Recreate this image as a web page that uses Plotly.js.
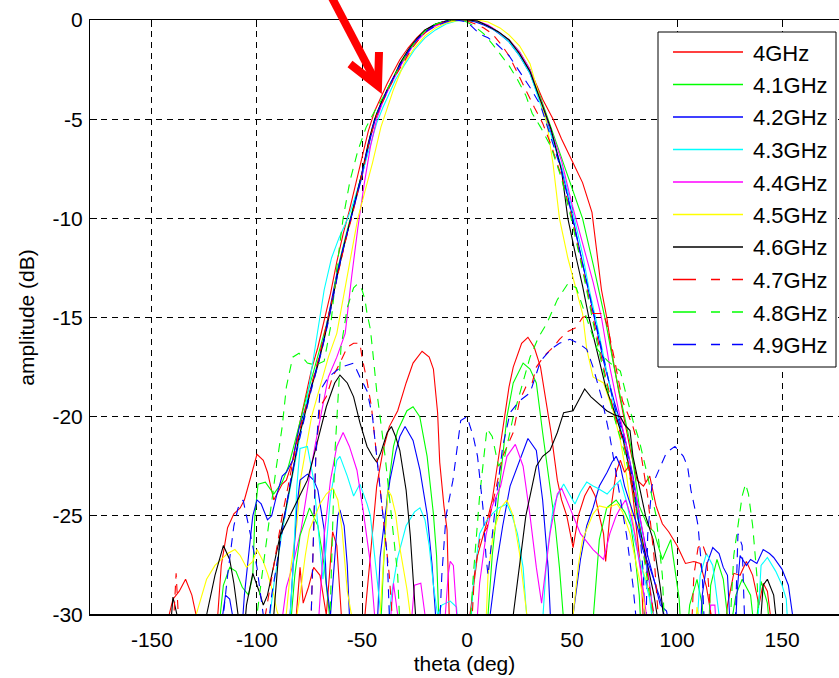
<!DOCTYPE html>
<html>
<head>
<meta charset="utf-8">
<script src="https://cdn.plot.ly/plotly-3.0.1.min.js"></script>
<style>
html,body{margin:0;padding:0;background:#fff;overflow:hidden;}
#chart{width:839px;height:678px;}
</style>
</head>
<body>
<div id="chart"></div>
<script>
// ---------------- DATA ----------------
const frequencyLabels = ['4GHz','4.1GHz','4.2GHz','4.3GHz','4.4GHz','4.5GHz','4.6GHz','4.7GHz','4.8GHz','4.9GHz'];
const xTickValues = [-150,-100,-50,0,50,100,150];
const xTickLabels = ['-150','-100','-50','0','50','100','150'];
const yTickValues = [0,-5,-10,-15,-20,-25,-30];
const yTickLabels = ['0','-5','-10','-15','-20','-25','-30'];

// co-polar patterns: [theta (deg), amplitude (dB)]
const co_4_0 = [[-146,-33],[-143,-30.5],[-140,-29.2],[-137,-28.8],[-134,-28.2],[-131,-29],[-128,-30.5],[-125,-33],[-121,-33],[-119,-30.5],[-117,-27.5],[-114,-25.6],[-111,-24.9],[-108,-24.6],[-106,-24.2],[-103,-23],[-100,-21.9],[-97,-22.2],[-95,-22.8],[-92,-24.2],[-90,-23.8],[-88,-23.4],[-86,-23.2],[-83,-22.2],[-80,-20.5],[-77,-19],[-74,-17.6],[-71,-16.5],[-68,-15.2],[-65,-13.8],[-62,-12.2],[-59,-10.8],[-56,-9.6],[-53,-8.3],[-50,-7],[-47,-5.6],[-44,-4.6],[-41,-3.9],[-38,-3.2],[-35,-2.6],[-32,-2.0],[-28,-1.4],[-24,-0.9],[-20,-0.5],[-16,-0.3],[-12,-0.15],[-8,-0.05],[-4,0],[0,0],[4,-0.05],[8,-0.2],[12,-0.4],[16,-0.7],[20,-1.0],[24,-1.5],[28,-2.2],[32,-3.0],[36,-4.0],[41,-5.0],[45,-6.0],[50,-7.1],[55,-8.2],[59.5,-9.7],[62,-11.8],[64,-13.6],[66.7,-15.1],[69,-16.8],[72,-18.6],[75,-20.2],[78,-21.8],[81,-23.2],[84,-23.5],[87,-23],[90,-24.5],[93,-25.4],[96,-25.8],[100,-26.5],[104,-27.4],[108,-27.3],[111,-27.4],[114,-28.6],[117,-30.5],[119,-33],[121,-33],[124,-29.5],[127,-27.9],[130,-28],[133,-27.3],[136,-28],[139,-29.5],[141,-28.4],[143,-28.8],[145,-30.5],[148,-33]];
const co_4_1 = [[-120,-33],[-118,-30.5],[-116,-28.5],[-113,-27.6],[-110,-27.8],[-107,-28.6],[-104,-29],[-102,-28],[-101,-25],[-99.5,-23.4],[-96,-23.3],[-92,-23.9],[-88,-23.3],[-85,-22.5],[-82,-21.3],[-79,-20],[-76,-18.8],[-73,-17.7],[-70,-16.6],[-67,-15.4],[-64,-14],[-61,-12.3],[-58,-11],[-55,-9.8],[-52,-8.6],[-49,-7.3],[-46,-5.8],[-43,-4.7],[-40,-4.0],[-37,-3.3],[-34,-2.7],[-30,-1.9],[-25,-1.1],[-20,-0.55],[-15,-0.2],[-10,-0.05],[-5,0],[0,-0.02],[5,-0.1],[10,-0.3],[15,-0.6],[20,-1.0],[25,-1.6],[30,-2.5],[35,-3.9],[40,-5.4],[45,-6.9],[50,-8.4],[55,-10],[60,-12.3],[63,-13.8],[66,-15.2],[70,-17.5],[74,-19.5],[78,-21.5],[82,-24.5],[86,-25.5],[89,-25.8],[93,-27.2],[97,-26.2],[101,-29.2],[103,-33],[106,-29.5],[109.5,-28.2],[112,-29.5],[114,-33],[116,-28.5],[119,-27.2],[122,-28.2],[125,-31],[128,-29],[131,-28.2],[135,-29],[137,-31],[140,-28.3],[143,-29.4],[146,-33]];
const co_4_2 = [[-119,-33],[-117,-30.5],[-115,-29],[-113,-29.2],[-110,-31],[-108,-32],[-106,-29],[-104,-27],[-102,-25],[-100,-24.2],[-98,-24.4],[-95,-25.2],[-93,-25],[-90.5,-23.9],[-88,-23],[-86,-22.8],[-83,-22.2],[-80,-20.6],[-77,-19.6],[-74,-18.4],[-71,-17.3],[-68,-16],[-65,-14.4],[-62,-12.8],[-59,-11.5],[-56,-10.3],[-53,-9.1],[-50,-7.9],[-47,-6.4],[-44,-5.1],[-41,-4.3],[-38,-3.6],[-35,-2.9],[-32,-2.3],[-28,-1.6],[-24,-1.0],[-20,-0.55],[-16,-0.3],[-12,-0.1],[-8,-0.02],[-4,0],[0,0],[4,-0.1],[8,-0.25],[12,-0.45],[16,-0.75],[20,-1.1],[25,-1.8],[30,-2.7],[35,-4.1],[40,-5.7],[45,-7.5],[50,-9.8],[55,-12.2],[58,-13.8],[61,-15.2],[65,-17.2],[70,-19.2],[75,-21],[79,-23],[83,-25.5],[86,-27],[89,-28.2],[92,-29.5],[95,-29.8],[97,-31],[99,-33],[110,-33],[112,-29],[114,-27.5],[117,-26.6],[120,-26.9],[122,-27.6],[124,-28],[125.5,-31],[127,-33],[128.5,-29],[130,-27.0],[133,-27.5],[135,-27.2],[138,-27.4],[141,-26.7],[144,-26.9],[146,-27.1],[150,-27.7],[153,-28.5],[155,-30],[156,-31],[158,-33]];
const co_4_3 = [[-97,-33],[-95,-31],[-92,-28.5],[-88,-25.8],[-84,-23.5],[-80,-21.2],[-76,-19],[-72,-16.3],[-68,-13.6],[-64.5,-12],[-61,-11],[-58,-10.3],[-55,-9.5],[-52,-8.5],[-49,-7.4],[-46,-6.2],[-43,-5.2],[-40,-4.4],[-37,-3.7],[-34,-3.0],[-30,-2.3],[-25,-1.5],[-20,-0.9],[-15,-0.5],[-10,-0.2],[-5,-0.05],[0,0],[5,-0.05],[10,-0.3],[15,-0.65],[20,-1.1],[25,-1.8],[30,-2.7],[35,-4.2],[40,-5.8],[45,-7.4],[50,-9.5],[55,-11.8],[58,-13.5],[62,-15.4],[65,-17],[70,-19.5],[75,-21.3],[80,-23.8],[84,-26.5],[87,-28.5],[90,-31],[92,-33],[108,-33],[111,-28],[114,-26.9],[117,-27.5],[120,-30],[122,-33],[137,-33],[140,-27.5],[143,-27.1],[147,-27.8],[150,-28.5],[152,-29.2],[154,-33]];
const co_4_4 = [[-92,-33],[-89,-31],[-86,-28.6],[-83,-27.5],[-79,-25.7],[-75,-23],[-71,-20.7],[-66,-18],[-62,-17],[-58,-15.8],[-55,-13],[-52,-10.5],[-49,-8.3],[-46,-6.4],[-43,-5.0],[-40,-4.1],[-37,-3.4],[-34,-2.8],[-30,-2.0],[-25,-1.2],[-20,-0.65],[-15,-0.3],[-10,-0.1],[-5,0],[0,0],[5,-0.05],[10,-0.25],[15,-0.6],[20,-1.0],[25,-1.6],[30,-2.5],[35,-4.0],[40,-5.6],[45,-7.1],[50,-9.3],[55,-11.2],[60,-13.2],[64,-15],[68,-17.5],[72,-19.6],[76,-21.5],[80,-23.7],[84,-26],[87,-28.5],[90,-31],[92,-33],[114,-33],[116,-29.5],[118,-29.5],[120,-33]];
const co_4_5 = [[-133,-33],[-129,-30],[-124,-28.2],[-120,-27.5],[-117,-27.2],[-114,-26.9],[-110.5,-26.7],[-108,-27],[-105,-27.6],[-102,-27.3],[-100,-26.7],[-97,-27.3],[-95,-27.9],[-92,-29],[-90.5,-29.8],[-88,-30.5],[-86,-29.9],[-84,-27.7],[-81,-25.4],[-79,-23],[-77,-21.8],[-74,-20],[-70,-18.5],[-66,-17],[-62,-15.8],[-59,-14],[-56,-12.2],[-52,-10],[-48,-8.4],[-45,-7.2],[-41,-5.4],[-38,-4.4],[-35,-3.5],[-30,-2.2],[-25,-1.4],[-20,-0.8],[-15,-0.4],[-10,-0.15],[-5,-0.03],[0,0],[5,0],[10,-0.1],[15.7,-0.4],[20,-0.75],[25,-1.3],[30,-2.2],[35,-4.0],[38,-5.2],[41,-7.3],[44,-10],[48,-12],[52,-13.6],[55,-14.8],[57,-16.6],[60,-18],[65,-18.3],[69.5,-19.7],[73,-21.2],[76,-23],[79,-25.3],[82,-27.2],[86,-28.5],[89,-30.5],[91,-33],[107,-33],[109.5,-29.6],[111,-30.5],[113,-33]];
const co_4_6 = [[-143,-33],[-140,-29.1],[-137,-30.5],[-135,-33],[-126,-33],[-124,-30],[-120,-28],[-116,-26.5],[-113,-27.2],[-111,-28.4],[-109,-30],[-107,-32],[-105,-29.5],[-102,-27.9],[-99,-28.8],[-97,-29.5],[-95,-29],[-92,-27.5],[-89,-26],[-86,-24.5],[-83,-22.8],[-80,-21],[-77,-19.8],[-74,-18.5],[-71,-17.4],[-68,-16.1],[-65,-14.6],[-62,-13],[-59,-11.6],[-56,-10.3],[-53,-9.1],[-50,-7.7],[-47,-6.2],[-44,-5],[-41,-4.2],[-38,-3.5],[-35,-2.9],[-32,-2.2],[-28,-1.5],[-24,-0.95],[-20,-0.5],[-15,-0.2],[-10,-0.05],[-5,0],[0,0],[5,-0.05],[10,-0.3],[15,-0.6],[20,-1.0],[25,-1.7],[30,-2.6],[35,-4.0],[40,-5.5],[45,-7.6],[48,-10],[52,-12],[55,-13.4],[58,-15],[62,-16.8],[66,-18.5],[70,-19.7],[74,-21],[78,-23],[82,-25.5],[86,-27.5],[89,-29],[92,-31],[94,-33],[138,-33],[141,-28.5],[143,-28.2],[146,-29],[148,-31],[150,-33]];
const co_4_7 = [[-141,-33],[-138.5,-27.9],[-136,-33],[-100,-33],[-96,-30],[-92,-27.5],[-88,-25],[-85,-23.4],[-82,-21.8],[-79,-20.4],[-76,-19.2],[-73,-18],[-70,-16.8],[-67,-15.4],[-64,-14],[-61,-12.5],[-58,-11.2],[-55,-10],[-52,-8.7],[-49,-7.3],[-46,-5.9],[-43,-4.8],[-40,-4.1],[-37,-3.4],[-34,-2.8],[-30,-2.1],[-26,-1.4],[-22,-0.85],[-18,-0.45],[-14,-0.2],[-10,-0.05],[-6,0],[0,-0.05],[4,-0.2],[8,-0.4],[12,-0.7],[16,-1.2],[20,-1.8],[25,-2.9],[28,-3.5],[32,-4.4],[36,-5.2],[40,-6.3],[45,-7.9],[50,-10],[55,-12.5],[59,-14.5],[62,-16],[66,-18],[70,-19.8],[75,-21.5],[79,-23.5],[83,-26],[86,-28],[89,-30],[91,-33],[106,-33],[108,-28],[110,-26.6],[112,-26.4],[114,-27],[116,-30],[118,-33]];
const co_4_8 = [[-102,-33],[-100,-30],[-97,-27.5],[-94,-25],[-91,-22.7],[-88,-20.5],[-86,-18.5],[-83,-17],[-80,-16.8],[-76,-17.3],[-72,-17.4],[-68,-17.2],[-65,-15.5],[-62,-12.5],[-59,-10],[-55.7,-8.1],[-52,-6.6],[-48,-5.4],[-44,-4.6],[-40,-3.9],[-36,-3.1],[-32,-2.3],[-28,-1.6],[-24,-1.0],[-20,-0.55],[-16,-0.25],[-12,-0.1],[-8,0],[-4,0],[0,-0.1],[4,-0.35],[8,-0.7],[12,-1.2],[17,-1.9],[20,-2.3],[24,-3.0],[28,-3.8],[31,-4.7],[35,-5.4],[40,-6.4],[45,-8],[50,-10.2],[55,-12.6],[59,-14.7],[62,-16.3],[66,-18.2],[70,-20],[75,-21.8],[79,-23.8],[83,-26.2],[86,-28.3],[89,-30.5],[91,-33],[124,-33],[127,-27],[129,-25.5],[131,-24],[132.6,-23.4],[134,-23.9],[136,-25.5],[138,-28],[140,-33]];
const co_4_9 = [[-118,-33],[-116,-30],[-114,-28],[-111,-25.5],[-109,-24.6],[-106.6,-24.2],[-103,-26],[-100,-27.6],[-97,-30],[-95,-31],[-93,-29],[-90,-27],[-87,-25],[-84,-23.2],[-81,-21.7],[-78,-20.3],[-75,-19],[-72,-17.8],[-69,-16.6],[-66,-15.2],[-63,-13.6],[-60,-12],[-57,-10.7],[-54,-9.5],[-51,-8.2],[-48,-6.8],[-45,-5.4],[-42,-4.5],[-39,-3.8],[-36,-3.1],[-32,-2.3],[-28,-1.6],[-24,-1.0],[-20,-0.6],[-15,-0.3],[-10,-0.1],[-5,0],[0,-0.1],[3,-0.4],[6,-0.7],[10,-0.9],[14,-1.2],[20,-1.8],[25,-2.6],[30,-3.4],[35,-4.3],[40,-5.9],[45,-7.6],[50,-9.9],[55,-12.3],[59,-14.2],[62,-15.7],[66,-17.6],[70,-19.4],[75,-21.2],[79,-23.2],[82,-25.5],[84,-28],[85,-32],[86,-26],[88,-23.5],[92,-22.5],[95,-21.8],[99,-21.5],[103,-22],[105,-22.5],[106.6,-23.7],[108.6,-24.7],[110,-25.5],[112,-28],[114,-33],[127,-33],[129,-25.9],[131,-26.5],[133,-33]];

// cross-polar patterns: [theta (deg), amplitude (dB)]
const cx_4_0 = [[-86,-33],[-82,-31],[-79.5,-27.6],[-78,-29.4],[-75.5,-28.6],[-73,-27.6],[-70,-28],[-67,-30],[-65.5,-28],[-64,-25.8],[-62,-26.5],[-60,-30],[-58,-33],[-50,-33],[-48.6,-30],[-46,-27],[-43,-23.5],[-40,-21.7],[-37,-20.5],[-33,-19.7],[-29,-18.3],[-25.7,-17.3],[-21.4,-16.7],[-18,-17],[-16,-17.6],[-14,-19.8],[-13,-22.3],[-11,-24.5],[-9.5,-25.7],[-8.5,-30],[-7,-33],[0,-33],[1.4,-30],[5,-27],[9,-25.5],[12,-24.2],[15,-22],[17,-20.5],[20,-18.5],[22,-17.5],[26,-16.3],[29,-16],[32,-16.5],[35,-17.5],[38,-19.5],[40,-20.8],[43,-23.2],[45,-24.2],[47.5,-25],[50.5,-26.6],[53,-25],[56,-24],[58.6,-23.5],[61,-24],[63,-25],[65,-25.9],[66,-27.3],[68,-25],[71,-22.8],[73,-22.2],[75,-22.8],[77,-22.5],[79,-24],[81,-26],[83,-28],[85,-33]];
const cx_4_1 = [[-86,-33],[-82,-28],[-79.5,-26],[-75,-24.6],[-71,-25.5],[-68,-27.5],[-65,-30.5],[-62,-33],[-42,-33],[-40,-28],[-38,-24],[-35,-21.5],[-33,-20.7],[-28.6,-19.7],[-25.7,-19.5],[-22.5,-20],[-19,-22],[-16,-24.9],[-14.5,-27],[-13.5,-30],[-12,-33],[8,-33],[10,-30],[12,-27],[14,-25],[16.5,-22.5],[19,-20],[22,-18.3],[26.7,-17.3],[30,-17.6],[33,-18.3],[36,-20.8],[39.5,-23.4],[42,-25.5],[44,-27.6],[46,-30],[48,-33],[58,-33],[61,-29],[63,-26.2],[66.5,-24.6],[71,-24.2],[75,-24.8],[78,-25.5],[80,-27],[82,-29],[84,-33]];
const cx_4_2 = [[-86,-33],[-83,-28],[-81,-24.5],[-79.5,-23.2],[-76,-22.9],[-73,-23.2],[-71,-23.7],[-68,-25.7],[-67,-28.4],[-65,-30],[-63,-27],[-61.5,-25],[-60.5,-24.7],[-58.5,-25.5],[-57,-27.5],[-56,-30],[-54,-33],[-44,-33],[-42.5,-30],[-41.4,-27.1],[-39,-25],[-36.7,-23.2],[-34,-21.8],[-32,-21],[-29.5,-20.5],[-25.7,-21.2],[-22.4,-22.7],[-19,-24.9],[-16.7,-27.4],[-15,-30],[-13,-33],[9,-33],[11,-30],[14,-27.5],[17,-25.5],[20.5,-23.5],[25,-22.2],[29,-21.1],[33,-21.7],[36,-24.2],[38.6,-27.6],[39.5,-30],[41,-33],[49,-33],[50.5,-30],[54,-27.2],[57,-25.5],[60,-24.6],[63,-23.5],[66.7,-22.8],[69,-22.3],[71,-22],[73,-22.5],[75,-23.5],[78,-24.5],[81,-25.5],[84,-26.8],[87,-27.6],[92,-29.2],[95,-30.5],[97,-33]];
const cx_4_3 = [[-86,-33],[-83,-28],[-81,-23.5],[-79.5,-21.6],[-76,-21.5],[-73,-23.2],[-71,-25.5],[-68.6,-28.2],[-67,-26.5],[-65,-24],[-62,-22.2],[-60.5,-22],[-57,-23],[-54,-24],[-51,-23.4],[-47.6,-24.4],[-46,-25],[-44,-27],[-42,-29],[-40,-31],[-38,-31],[-36,-29],[-33,-27.1],[-29,-25.5],[-25,-24.8],[-22.4,-24.6],[-20,-25.2],[-18,-26.5],[-16,-28.5],[-14,-30],[-12,-29.5],[-8,-29.3],[-5,-29.6],[-3,-32],[1,-32],[3,-28.4],[6,-25.9],[9,-25.3],[12,-24.9],[15,-24.6],[19,-24.4],[21.5,-25],[24,-25.9],[26.7,-27.6],[28,-29.5],[30,-32],[35,-32],[38,-27],[41,-24.6],[43,-24],[46,-23.4],[49,-24],[51.4,-24.4],[54,-23.8],[57,-23.3],[60,-23.5],[62,-23.6],[66.7,-23.9],[70,-23.5],[73,-23.2],[76,-24.3],[79,-25.9],[84,-27.9],[87,-29.2],[89,-31],[91,-33]];
const cx_4_4 = [[-73,-33],[-70.5,-30],[-68,-26],[-65,-23.2],[-62,-21.5],[-59,-20.8],[-56,-21.5],[-52.4,-22.7],[-49.5,-24.7],[-46,-27.4],[-44,-30],[-42,-33],[-37,-31],[-35,-28.4],[-33,-30],[-31,-33],[-27,-31],[-25,-28.5],[-22,-28.4],[-20,-30],[-18,-33],[-11,-31],[-9,-28],[-8,-27.3],[-6.5,-27.5],[-5,-30],[-3,-33],[3,-33],[6,-28.4],[9,-26],[12,-24.5],[16,-23.5],[19,-22],[23,-21.4],[26.7,-22.5],[30,-25],[33,-27.6],[35.5,-29.4],[37.5,-27.5],[39.5,-25.9],[43,-23.9],[45,-23.6],[49,-24.6],[54,-25.9],[60,-26.7],[65,-27.2],[68,-25.9],[71,-25],[73,-24.6],[75.5,-24.2],[78,-25],[80,-26],[83,-28],[86,-30.5],[88,-33]];
const cx_4_5 = [[-84,-33],[-81,-30],[-79.5,-29],[-77,-27],[-75,-25.7],[-70,-24.4],[-67,-23.9],[-64,-23.6],[-61.5,-24.2],[-59.5,-25.7],[-57,-28.8],[-55,-30],[-53,-33],[-43,-33],[-41.4,-30],[-39,-25.7],[-37.6,-23.7],[-36,-24],[-34,-24.9],[-32,-26.6],[-28.6,-28.7],[-27,-30],[-25,-33],[8,-33],[10,-28],[12.5,-25.9],[16,-24.6],[19,-24.2],[22,-25],[25,-26.9],[26.7,-28.4],[28.5,-30],[30,-33],[48,-33],[50.5,-30],[53,-27.5],[55,-26.2],[60,-24.9],[63,-24.5],[66.7,-24.6],[71.4,-24.4],[74,-24.8],[77.6,-25.9],[81,-27.6],[84,-29.2],[86,-31],[88,-33]];
const cx_4_6 = [[-95,-33],[-92,-30],[-89,-26],[-84,-24.9],[-80,-24],[-76,-23.2],[-73,-22],[-71,-21.2],[-67,-19.5],[-63,-18.3],[-60.5,-17.9],[-57,-18.3],[-54,-19],[-51,-20.3],[-47.6,-21.5],[-45,-22],[-43,-22.3],[-41,-21.8],[-38,-20.8],[-36,-20.5],[-34,-21],[-32,-21.7],[-29,-23.7],[-27,-26],[-25.7,-27.9],[-24.5,-30],[-23,-33],[20,-33],[22,-30],[25,-27.5],[28,-25],[31,-23.5],[33,-22.5],[36,-22],[39.5,-21.7],[43,-20.8],[46,-19.8],[50.5,-19.7],[53,-19.2],[56,-18.6],[59,-19],[62,-19.3],[66.5,-19.7],[70,-19.9],[73,-20],[75,-20.4],[77.6,-20.7],[79,-22],[82,-23.5],[85,-25],[88.6,-26.2],[92,-28.6],[93.5,-30],[95,-33]];
const cx_4_7 = [[-75,-33],[-72,-22],[-70,-19.5],[-67,-19],[-64,-18],[-61,-17.4],[-57,-16.5],[-54,-16.3],[-51,-16.3],[-50,-17],[-47.6,-18.2],[-45.5,-19.5],[-43,-22],[-41,-24],[-39,-26],[-37,-28],[-35,-31],[-33,-33],[1,-33],[3.5,-28],[6,-26.2],[9.5,-25.6],[13,-24],[17,-22],[22,-20.8],[25,-19.2],[28,-18.5],[31,-18.3],[33,-17.5],[37,-16.9],[41,-16.5],[44,-16.1],[48,-15.7],[52,-15.5],[55,-15],[60,-14.8],[65,-14.8],[67,-15.5],[70,-17],[74,-19.2],[79,-20.5],[83,-22],[86,-24],[89,-27],[91,-30],[93,-33]];
const cx_4_8 = [[-66,-33],[-63,-22],[-60,-16.5],[-57,-14.5],[-54,-13.5],[-52,-13.3],[-50,-13.6],[-48.6,-14.1],[-47.6,-14.8],[-46,-15.6],[-45,-16.6],[-43,-18.7],[-41.4,-20],[-39,-22],[-37,-24],[-35,-26],[-33,-28],[-31,-33],[0,-33],[3,-28],[6,-24],[9.5,-20.6],[12,-21],[15,-22.5],[18,-22],[22,-20],[26,-18.5],[30,-17],[34,-16],[38,-15.3],[43,-14.1],[48,-13.3],[52,-13.5],[57,-15],[62,-16.6],[67,-17.2],[73,-17.7],[76,-19],[79,-20.2],[82,-21.2],[86,-23],[90,-25],[93,-28],[95,-33]];
const cx_4_9 = [[-75,-33],[-72,-22],[-70,-18.7],[-66,-18],[-60,-17.5],[-54,-17.3],[-51,-18],[-47.6,-18.7],[-45,-20],[-43,-22],[-41,-24],[-38,-27],[-36,-33],[-14,-33],[-12,-28],[-10,-25],[-6.7,-23.2],[-3,-20.2],[0,-20],[1,-20.3],[3,-21],[5,-22],[7.6,-24.6],[9,-27],[10,-28],[12,-26],[14,-24],[17,-21.5],[20.5,-19.8],[25,-19.2],[30,-18.8],[35,-17.2],[40,-16.6],[44,-16.3],[49,-16.1],[53,-16.3],[57,-16.6],[60,-17.5],[64,-19],[68,-21],[72,-23.5],[76,-26],[79,-28.5],[81,-31],[83,-33]];

// ---------------- STYLE ----------------
const coPol = [co_4_0,co_4_1,co_4_2,co_4_3,co_4_4,co_4_5,co_4_6,co_4_7,co_4_8,co_4_9];
const crossPol = [cx_4_0,cx_4_1,cx_4_2,cx_4_3,cx_4_4,cx_4_5,cx_4_6,cx_4_7,cx_4_8,cx_4_9];
const lineColors = ['#ff0000','#00ff00','#0000ff','#00ffff','#ff00ff','#ffff00','#000000','#ff0000','#00ff00','#0000ff'];
const isDashed = [false,false,false,false,false,false,false,true,true,true];
const CURVE_DASH = '9px,7px';
const LEGEND_DASH = '23px,15px,9px,12px,11px,200px';
const FONT = 'Arial, "Liberation Sans", Helvetica, sans-serif';

const traces = [];
function addTrace(series, i) {
  traces.push({
    type: 'scatter', mode: 'lines',
    x: series.map(p => p[0]), y: series.map(p => p[1]),
    name: frequencyLabels[i], showlegend: false, hoverinfo: 'skip',
    line: { color: lineColors[i], width: 1.1, dash: isDashed[i] ? CURVE_DASH : 'solid' }
  });
}
for (let i = 0; i < 10; i++) addTrace(coPol[i], i);
for (let i = 0; i < 10; i++) addTrace(crossPol[i], i);

// pixel -> paper helpers for the manually drawn legend, arrow and bottom frame
const PLOT = { left: 90, top: 20, width: 749, height: 595 };
const px = p => (p - PLOT.left) / PLOT.width;
const py = p => 1 - (p - PLOT.top) / PLOT.height;

const shapes = [];
const annotations = [];
// thicker bottom frame line
shapes.push({ type: 'line', xref: 'paper', yref: 'paper', x0: 0, x1: 1, y0: 0, y1: 0,
  line: { color: '#000', width: 2 }, layer: 'above' });
// legend box
shapes.push({ type: 'rect', xref: 'paper', yref: 'paper', x0: px(658), x1: px(836), y0: py(367), y1: py(32),
  fillcolor: '#ffffff', line: { color: '#000', width: 1 }, layer: 'above' });
for (let i = 0; i < 10; i++) {
  const rowY = 52 + i * 32.5;
  shapes.push({ type: 'line', xref: 'paper', yref: 'paper', x0: px(673), x1: px(743), y0: py(rowY), y1: py(rowY),
    line: { color: lineColors[i], width: 1.5, dash: isDashed[i] ? LEGEND_DASH : 'solid' }, layer: 'above' });
  annotations.push({ xref: 'paper', yref: 'paper', x: px(751), y: py(rowY + 1), xanchor: 'left', yanchor: 'middle',
    text: frequencyLabels[i], showarrow: false, font: { family: FONT, size: 22, color: '#000' } });
}
// red arrow
shapes.push({ type: 'path', xref: 'paper', yref: 'paper',
  path: `M ${px(331)},${py(-4)} L ${px(375)},${py(80)}`, line: { color: '#ff0000', width: 8 }, layer: 'above' });
shapes.push({ type: 'path', xref: 'paper', yref: 'paper',
  path: `M ${px(350)},${py(64)} L ${px(378)},${py(86)} L ${px(379)},${py(52)}`, line: { color: '#ff0000', width: 8 }, layer: 'above' });

const axisCommon = {
  ticks: 'inside', ticklen: 7, tickwidth: 1, tickcolor: '#000',
  showline: true, linecolor: '#000', linewidth: 1,
  showgrid: true, gridcolor: '#000', gridwidth: 1, griddash: '6px,5px',
  zeroline: false, automargin: false,
  tickfont: { family: FONT, size: 21, color: '#000' }
};

const layout = {
  width: 839, height: 678,
  margin: { l: 90, r: 0, t: 20, b: 63, pad: 0 },
  paper_bgcolor: '#ffffff', plot_bgcolor: '#ffffff',
  font: { family: FONT, size: 21, color: '#000' },
  showlegend: false,
  xaxis: Object.assign({}, axisCommon, {
    range: [-179.5, 177.1], tickmode: 'array', tickvals: xTickValues, ticktext: xTickLabels,
    mirror: 'ticks', ticklabelstandoff: 6,
    title: { text: 'theta (deg)', font: { family: FONT, size: 21, color: '#000' }, standoff: 6 }
  }),
  yaxis: Object.assign({}, axisCommon, {
    range: [-30, 0], tickmode: 'array', tickvals: yTickValues, ticktext: yTickLabels,
    mirror: false, ticklabelstandoff: 2,
    title: { text: 'amplitude (dB)', font: { family: FONT, size: 21, color: '#000' }, standoff: 12 }
  }),
  shapes: shapes,
  annotations: annotations
};

Plotly.newPlot('chart', traces, layout, { staticPlot: true, displayModeBar: false });
</script>
</body>
</html>
